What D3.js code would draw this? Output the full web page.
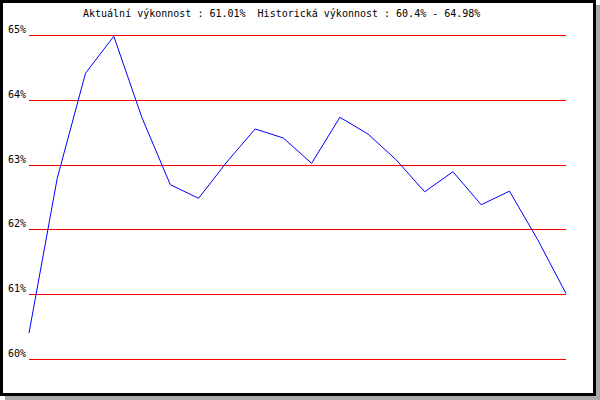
<!DOCTYPE html>
<html>
<head>
<meta charset="utf-8">
<script src="https://cdn.jsdelivr.net/npm/d3@7"></script>
<style>
  body { margin: 0; background: #fff; }
  svg { display: block; }
  text { font-family: "DejaVu Sans Mono", monospace; font-size: 10px; fill: #000; }
</style>
</head>
<body>
<svg width="600" height="400"></svg>
<script>
// hodnoty vykonnosti (%)
var values = [60.40, 62.79, 64.41, 64.98, 63.72, 62.69, 62.48, 63.04, 63.55, 63.41,
              63.02, 63.73, 63.47, 63.07, 62.58, 62.89, 62.38, 62.59, 61.84, 61.01];
var yTicks = [60, 61, 62, 63, 64, 65];
var title = "Aktuální výkonnost : 61.01%  Historická výkonnost : 60.4% - 64.98%";

var svg = d3.select("svg");

// stin a ramecek
svg.append("rect").attr("x", 5).attr("y", 5).attr("width", 595).attr("height", 395).attr("fill", "#aaaaaa");
svg.append("rect").attr("x", 1.5).attr("y", 1.5).attr("width", 593).attr("height", 393)
    .attr("fill", "#fff").attr("stroke", "#000").attr("stroke-width", 3);

var x = d3.scaleLinear()
    .domain([0, values.length - 1])
    .range([29, 566]);

var y = d3.scaleLinear()
    .domain([60, 65])
    .range([359, 35]);

var grid = svg.append("g");
grid.selectAll("line")
    .data(yTicks)
    .enter().append("line")
    .attr("x1", 29).attr("x2", 566)
    .attr("y1", d => Math.round(y(d)) + 0.5)
    .attr("y2", d => Math.round(y(d)) + 0.5)
    .attr("stroke", "#ff0000")
    .attr("shape-rendering", "crispEdges");

grid.selectAll("text")
    .data(yTicks)
    .enter().append("text")
    .attr("x", 26)
    .attr("y", d => Math.round(y(d)) - 2)
    .attr("text-anchor", "end")
    .text(d => d + "%");

var line = d3.line()
    .x((d, i) => x(i))
    .y(d => y(d));

svg.append("path")
    .datum(values)
    .attr("d", line)
    .attr("fill", "none")
    .attr("stroke", "#0000ff")
    .attr("stroke-width", 1);

svg.append("text")
    .attr("x", 83)
    .attr("y", 17)
    .attr("xml:space", "preserve")
    .style("white-space", "pre")
    .text(title);
</script>
</body>
</html>
